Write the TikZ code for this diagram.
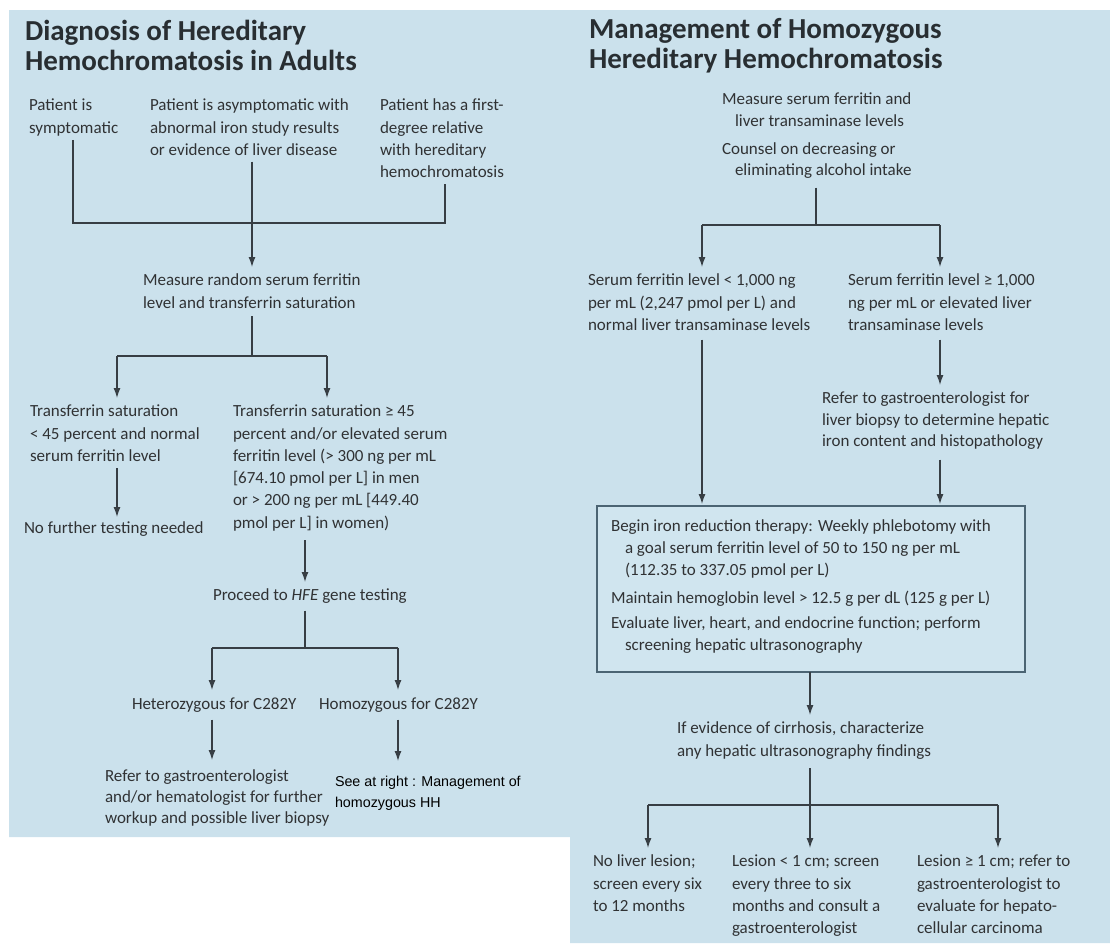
\documentclass[tikz,border=0pt]{standalone}
\usepackage{fontspec}
\setmainfont{Carlito}
\newfontfamily\seefont{Liberation Sans}
\usetikzlibrary{arrows.meta}
\definecolor{bg}{RGB}{203,225,236}
\definecolor{tx}{RGB}{48,50,52}
\definecolor{tt}{RGB}{40,46,50}
\definecolor{lc}{RGB}{55,62,68}
\definecolor{bx}{RGB}{75,100,115}
\definecolor{bxf}{RGB}{208,229,239}
\begin{document}
\begin{tikzpicture}[x=1pt,y=-1pt,
  txt/.style={anchor=north west, inner sep=0pt, outer sep=0pt, align=left, text=tx, font=\fontsize{17}{22.3}\selectfont},
  ttl/.style={anchor=north west, inner sep=0pt, outer sep=0pt, align=left, text=tt, font=\fontsize{29}{30.5}\selectfont\bfseries},
  seetxt/.style={anchor=north west, inner sep=0pt, outer sep=0pt, align=left, text=black, font=\seefont\fontsize{14.3}{21}\selectfont},
  ln/.style={draw=lc, line width=1.3pt},
  arr/.style={ln, -{Latex[length=10pt,width=7pt]}},
]
\useasboundingbox (0,0) rectangle (1110,943);
\fill[bg] (9,10) -- (1110,10) -- (1110,943) -- (570,943) -- (570,837) -- (9,837) -- cycle;

% ---------- Left panel ----------
\node[ttl] (ltitle) at (25,20) {Diagnosis of Hereditary\\Hemochromatosis in Adults};
\node[txt] (p1) at (29,99) {Patient is\\symptomatic};
\node[txt] (p2) at (150,99) {Patient is asymptomatic with\\abnormal iron study results\\or evidence of liver disease};
\node[txt] (p3) at (380,99) {Patient has a first-\\degree relative\\with hereditary\\hemochromatosis};
\node[txt] (m1) at (143,274) {Measure random serum ferritin\\level and transferrin saturation};
\node[txt] (t1) at (30,405) {Transferrin saturation\\< 45 percent and normal\\serum ferritin level};
\node[txt] (t2) at (233,405) {Transferrin saturation ≥ 45\\percent and/or elevated serum\\ferritin level (> 300 ng per mL\\{[}674.10 pmol per L{]} in men\\or > 200 ng per mL {[}449.40\\pmol per L{]} in women)};
\node[txt] (n1) at (24,522) {No further testing needed};
\node[txt] (hfe) at (213,589) {Proceed to \textit{HFE} gene testing};
\node[txt] (het) at (132,698) {Heterozygous for C282Y};
\node[txt] (hom) at (319,698) {Homozygous for C282Y};
\node[txt, font=\fontsize{17}{21}\selectfont] (r1) at (105,770) {Refer to gastroenterologist\\and/or hematologist for further\\workup and possible liver biopsy};
\node[seetxt] (s1) at (335,776) {See at right : Management of\\homozygous HH};

\coordinate (h1a) at (73,223);
\coordinate (h1m) at (252,223);
\coordinate (h1b) at (445,223);
\draw[ln, shorten <=4pt, shorten >=6pt] (p1.south -| h1a) -- (h1a) -- (h1b) -- (p3.south -| h1b);
\draw[ln, shorten <=6pt] (p2.south -| h1m) -- (h1m);
\draw[arr, shorten >=7pt] (h1m) -- (h1m |- m1.north);

\coordinate (h2a) at (117,356);
\coordinate (h2m) at (252,356);
\coordinate (h2b) at (327,356);
\draw[ln, shorten <=8pt] (m1.south -| h2m) -- (h2m);
\draw[ln] (h2a) -- (h2b);
\draw[arr, shorten >=7pt] (h2a) -- (h2a |- t1.north);
\draw[arr, shorten >=7pt] (h2b) -- (h2b |- t2.north);

\coordinate (c1) at (117,0);
\draw[arr, shorten <=7pt, shorten >=5pt] (t1.south -| c1) -- (c1 |- n1.north);
\coordinate (c2) at (305,0);
\draw[arr, shorten <=9pt, shorten >=7pt] (t2.south -| c2) -- (c2 |- hfe.north);

\coordinate (h3a) at (212,648);
\coordinate (h3m) at (305,648);
\coordinate (h3b) at (398,648);
\draw[ln, shorten <=7pt] (hfe.south -| h3m) -- (h3m);
\draw[ln] (h3a) -- (h3b);
\draw[arr, shorten >=8pt] (h3a) -- (h3a |- het.north);
\draw[arr, shorten >=8pt] (h3b) -- (h3b |- hom.north);
\draw[arr, shorten <=7pt, shorten >=10pt] (het.south -| h3a) -- (h3a |- r1.north);
\draw[arr, shorten <=7pt, shorten >=15pt] (hom.south -| h3b) -- (h3b |- s1.north);

% ---------- Right panel ----------
\node[ttl] (rtitle) at (589,18) {Management of Homozygous\\Hereditary Hemochromatosis};
\node[txt, font=\fontsize{17}{22}\selectfont] (ms) at (722,93) {Measure serum ferritin and\\\hspace*{13pt}liver transaminase levels};
\node[txt, font=\fontsize{17}{21}\selectfont] (co) at (722,143) {Counsel on decreasing or\\\hspace*{13pt}eliminating alcohol intake};
\node[txt] (sf1) at (588,274) {Serum ferritin level < 1,000 ng\\per mL (2,247 pmol per L) and\\normal liver transaminase levels};
\node[txt] (sf2) at (848,274) {Serum ferritin level ≥ 1,000\\ng per mL or elevated liver\\transaminase levels};
\node[txt, font=\fontsize{17}{21.5}\selectfont] (rg) at (822,392) {Refer to gastroenterologist for\\liver biopsy to determine hepatic\\iron content and histopathology};
\node[draw=bx, fill=bxf, line width=1.2pt, anchor=north west, inner sep=0pt, outer sep=0pt,
      minimum width=428pt, minimum height=166pt] (box) at (597,506) {};
\node[txt, font=\fontsize{17}{22}\selectfont] (boxtxt) at (611,520)
  {Begin iron reduction therapy: Weekly phlebotomy with\\
   \hspace*{14pt}a goal serum ferritin level of 50 to 150 ng per mL\\
   \hspace*{14pt}(112.35 to 337.05 pmol per L)\\[6pt]
   Maintain hemoglobin level > 12.5 g per dL (125 g per L)\\[3pt]
   Evaluate liver, heart, and endocrine function; perform\\
   \hspace*{14pt}screening hepatic ultrasonography};
\node[txt] (ie) at (677,722) {If evidence of cirrhosis, characterize\\any hepatic ultrasonography findings};
\node[txt] (nl) at (593,855) {No liver lesion;\\screen every six\\to 12 months};
\node[txt] (ls) at (732,855) {Lesion < 1 cm; screen\\every three to six\\months and consult a\\gastroenterologist};
\node[txt] (lg) at (917,855) {Lesion ≥ 1 cm; refer to\\gastroenterologist to\\evaluate for hepato-\\cellular carcinoma};

\coordinate (k1a) at (702,225);
\coordinate (k1m) at (816,225);
\coordinate (k1b) at (940,225);
\draw[ln, shorten <=9pt] (co.south -| k1m) -- (k1m);
\draw[ln] (k1a) -- (k1b);
\draw[arr, shorten >=7pt] (k1a) -- (k1a |- sf1.north);
\draw[arr, shorten >=7pt] (k1b) -- (k1b |- sf2.north);
\draw[arr, shorten <=9pt, shorten >=2pt] (sf1.south -| k1a) -- (k1a |- box.north);
\draw[arr, shorten <=9pt, shorten >=7pt] (sf2.south -| k1b) -- (k1b |- rg.north);
\draw[arr, shorten <=10pt, shorten >=2pt] (rg.south -| k1b) -- (k1b |- box.north);

\coordinate (k2a) at (648,805);
\coordinate (k2m) at (810,805);
\coordinate (k2b) at (998,805);
\draw[arr, shorten >=7pt] (box.south -| k2m) -- (k2m |- ie.north);
\draw[ln, shorten <=9pt] (ie.south -| k2m) -- (k2m);
\draw[ln] (k2a) -- (k2b);
\draw[arr, shorten >=7pt] (k2a) -- (k2a |- nl.north);
\draw[arr, shorten >=7pt] (k2m) -- (k2m |- ls.north);
\draw[arr, shorten >=7pt] (k2b) -- (k2b |- lg.north);
\end{tikzpicture}
\end{document}
